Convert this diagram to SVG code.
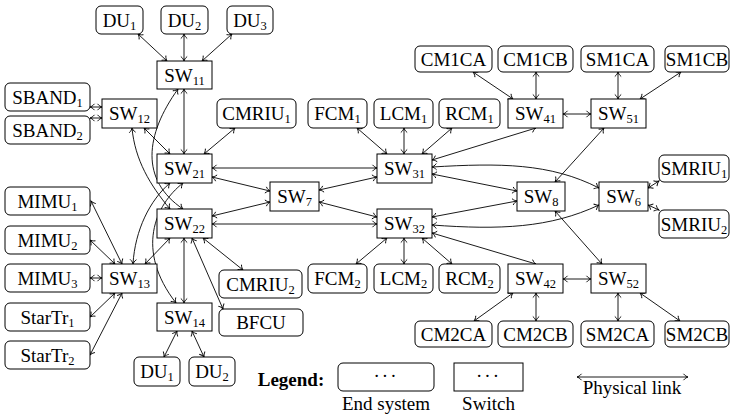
<svg xmlns="http://www.w3.org/2000/svg" width="732" height="417" viewBox="0 0 732 417">
<defs>
<marker id="ar" viewBox="-6 -5 8 10" markerWidth="8" markerHeight="10" refX="0" refY="0" orient="auto-start-reverse" markerUnits="userSpaceOnUse">
<path d="M-4.5,-3.2 C-3,-1.2 -1,-0.3 0,0 C-1,0.3 -3,1.2 -4.5,3.2" fill="none" stroke="#000" stroke-width="0.9"/>
</marker>
</defs>
<style>
.es{fill:#fff;stroke:#000;stroke-width:1;}
.sw{fill:#fff;stroke:#000;stroke-width:1;}
text{font-size:19px;fill:#000;text-anchor:middle;}
.sub{font-size:12.5px;}
#links path,#links line{fill:none;stroke:#000;stroke-width:0.9;marker-start:url(#ar);marker-end:url(#ar);}
.lg{font-weight:bold;}
</style>
<rect width="732" height="417" fill="#fff"/>
<g id="links">
<line x1="138" y1="34" x2="167" y2="61"/>
<line x1="184" y1="34" x2="184" y2="61"/>
<line x1="232" y1="34" x2="202" y2="61"/>
<line x1="90" y1="107" x2="102" y2="107"/>
<line x1="90" y1="118" x2="102" y2="118"/>
<line x1="184" y1="89" x2="184" y2="154"/>
<line x1="144" y1="128" x2="170" y2="154"/>
<line x1="235" y1="128" x2="204" y2="154"/>
<path d="M132,128 C135,160 150,185 170,209"/>
<path d="M178,89 C145,135 140,180 183,209"/>
<path d="M170,183 C150,200 135,230 133,264"/>
<path d="M183,183 C155,205 135,250 176,303"/>
<line x1="170" y1="238" x2="145" y2="264"/>
<line x1="184" y1="238" x2="184" y2="303"/>
<line x1="192" y1="238" x2="223" y2="309"/>
<line x1="203" y1="238" x2="243" y2="270"/>
<line x1="91" y1="201" x2="122" y2="264"/>
<line x1="90" y1="240" x2="115" y2="264"/>
<line x1="90" y1="278" x2="102" y2="278"/>
<line x1="90" y1="317" x2="115" y2="293"/>
<line x1="90" y1="355" x2="122" y2="293"/>
<line x1="177" y1="331" x2="164" y2="357"/>
<line x1="192" y1="331" x2="204" y2="357"/>
<line x1="212" y1="168" x2="377" y2="168"/>
<line x1="212" y1="177" x2="270" y2="191"/>
<line x1="319" y1="190" x2="377" y2="177"/>
<line x1="212" y1="216" x2="270" y2="202"/>
<line x1="319" y1="202" x2="377" y2="217"/>
<line x1="212" y1="224" x2="377" y2="224"/>
<line x1="357" y1="128" x2="387" y2="154"/>
<line x1="404" y1="128" x2="404" y2="154"/>
<line x1="452" y1="128" x2="422" y2="154"/>
<line x1="536" y1="128" x2="432" y2="160"/>
<line x1="432" y1="174" x2="517" y2="191"/>
<path d="M432,167 C500,163 550,163 599,188"/>
<line x1="432" y1="217" x2="517" y2="201"/>
<path d="M432,225 C500,230 550,228 599,205"/>
<line x1="432" y1="233" x2="536" y2="264"/>
<line x1="356" y1="264" x2="387" y2="238"/>
<line x1="404" y1="264" x2="404" y2="238"/>
<line x1="452" y1="264" x2="422" y2="238"/>
<line x1="563" y1="279" x2="591" y2="279"/>
<line x1="513" y1="293" x2="474" y2="321"/>
<line x1="536" y1="293" x2="536" y2="321"/>
<line x1="618" y1="293" x2="618" y2="321"/>
<line x1="640" y1="293" x2="680" y2="321"/>
<line x1="555" y1="211" x2="602" y2="264"/>
<line x1="555" y1="182" x2="604" y2="128"/>
<line x1="563" y1="114" x2="591" y2="114"/>
<line x1="513" y1="99" x2="473" y2="72"/>
<line x1="536" y1="72" x2="536" y2="99"/>
<line x1="618" y1="72" x2="618" y2="99"/>
<line x1="640" y1="99" x2="681" y2="72"/>
<line x1="648" y1="188" x2="659" y2="181"/>
<line x1="648" y1="205" x2="659" y2="210"/>
<line x1="577" y1="377" x2="688" y2="377"/>
</g>
<g font-family="Liberation Serif, Times New Roman, DejaVu Serif, Noto Serif, serif">
<g id="DU1a"><rect class="es" x="96" y="6" width="47" height="28" rx="5"/><text x="119.5" y="26.5">DU<tspan class="sub" dy="3">1</tspan></text></g>
<g id="DU2a"><rect class="es" x="161" y="6" width="47" height="28" rx="5"/><text x="184.5" y="26.5">DU<tspan class="sub" dy="3">2</tspan></text></g>
<g id="DU3a"><rect class="es" x="227" y="6" width="46" height="28" rx="5"/><text x="250" y="26.5">DU<tspan class="sub" dy="3">3</tspan></text></g>
<g id="SBAND1"><rect class="es" x="5" y="83" width="85" height="28" rx="5"/><text x="47.5" y="103.5">SBAND<tspan class="sub" dy="3">1</tspan></text></g>
<g id="SBAND2"><rect class="es" x="5" y="116" width="85" height="28" rx="5"/><text x="47.5" y="136.5">SBAND<tspan class="sub" dy="3">2</tspan></text></g>
<g id="CMRIU1"><rect class="es" x="217" y="99" width="79" height="29" rx="5"/><text x="256.5" y="120">CMRIU<tspan class="sub" dy="3">1</tspan></text></g>
<g id="MIMU1"><rect class="es" x="5" y="187" width="85" height="28" rx="5"/><text x="47.5" y="207.5">MIMU<tspan class="sub" dy="3">1</tspan></text></g>
<g id="MIMU2"><rect class="es" x="5" y="226" width="85" height="28" rx="5"/><text x="47.5" y="246.5">MIMU<tspan class="sub" dy="3">2</tspan></text></g>
<g id="MIMU3"><rect class="es" x="5" y="264" width="85" height="28" rx="5"/><text x="47.5" y="284.5">MIMU<tspan class="sub" dy="3">3</tspan></text></g>
<g id="StarTr1"><rect class="es" x="5" y="303" width="85" height="28" rx="5"/><text x="47.5" y="323.5">StarTr<tspan class="sub" dy="3">1</tspan></text></g>
<g id="StarTr2"><rect class="es" x="5" y="341" width="85" height="28" rx="5"/><text x="47.5" y="361.5">StarTr<tspan class="sub" dy="3">2</tspan></text></g>
<g id="CMRIU2"><rect class="es" x="219" y="270" width="83" height="28" rx="5"/><text x="260.5" y="290.5">CMRIU<tspan class="sub" dy="3">2</tspan></text></g>
<g id="BFCU"><rect class="es" x="219" y="309" width="84" height="27" rx="5"/><text x="261" y="329">BFCU</text></g>
<g id="DU1b"><rect class="es" x="134" y="357" width="46" height="29" rx="5"/><text x="157" y="378">DU<tspan class="sub" dy="3">1</tspan></text></g>
<g id="DU2b"><rect class="es" x="189" y="357" width="46" height="29" rx="5"/><text x="212" y="378">DU<tspan class="sub" dy="3">2</tspan></text></g>
<g id="FCM1"><rect class="es" x="308" y="99" width="59" height="29" rx="5"/><text x="337.5" y="120">FCM<tspan class="sub" dy="3">1</tspan></text></g>
<g id="LCM1"><rect class="es" x="374" y="99" width="59" height="29" rx="5"/><text x="403.5" y="120">LCM<tspan class="sub" dy="3">1</tspan></text></g>
<g id="RCM1"><rect class="es" x="439" y="99" width="61" height="29" rx="5"/><text x="469.5" y="120">RCM<tspan class="sub" dy="3">1</tspan></text></g>
<g id="CM1CA"><rect class="es" x="415" y="46" width="77" height="26" rx="5"/><text x="453.5" y="65.5">CM1CA</text></g>
<g id="CM1CB"><rect class="es" x="498" y="46" width="75" height="26" rx="5"/><text x="535.5" y="65.5">CM1CB</text></g>
<g id="SM1CA"><rect class="es" x="581" y="46" width="73" height="26" rx="5"/><text x="617.5" y="65.5">SM1CA</text></g>
<g id="SM1CB"><rect class="es" x="665" y="46" width="64" height="26" rx="5"/><text x="697" y="65.5">SM1CB</text></g>
<g id="SMRIU1"><rect class="es" x="659" y="155" width="70" height="27" rx="5"/><text x="694" y="175">SMRIU<tspan class="sub" dy="3">1</tspan></text></g>
<g id="SMRIU2"><rect class="es" x="659" y="210" width="70" height="28" rx="5"/><text x="694" y="230.5">SMRIU<tspan class="sub" dy="3">2</tspan></text></g>
<g id="FCM2"><rect class="es" x="308" y="264" width="59" height="29" rx="5"/><text x="337.5" y="285">FCM<tspan class="sub" dy="3">2</tspan></text></g>
<g id="LCM2"><rect class="es" x="374" y="264" width="59" height="29" rx="5"/><text x="403.5" y="285">LCM<tspan class="sub" dy="3">2</tspan></text></g>
<g id="RCM2"><rect class="es" x="439" y="264" width="61" height="29" rx="5"/><text x="469.5" y="285">RCM<tspan class="sub" dy="3">2</tspan></text></g>
<g id="CM2CA"><rect class="es" x="415" y="321" width="77" height="26" rx="5"/><text x="453.5" y="340.5">CM2CA</text></g>
<g id="CM2CB"><rect class="es" x="498" y="321" width="75" height="26" rx="5"/><text x="535.5" y="340.5">CM2CB</text></g>
<g id="SM2CA"><rect class="es" x="581" y="321" width="73" height="26" rx="5"/><text x="617.5" y="340.5">SM2CA</text></g>
<g id="SM2CB"><rect class="es" x="665" y="321" width="64" height="26" rx="5"/><text x="697" y="340.5">SM2CB</text></g>
<g id="SW11"><rect class="sw" x="157" y="61" width="55" height="28"/><text x="184.5" y="81.5">SW<tspan class="sub" dy="3">11</tspan></text></g>
<g id="SW12"><rect class="sw" x="102" y="99" width="55" height="29"/><text x="129.5" y="120">SW<tspan class="sub" dy="3">12</tspan></text></g>
<g id="SW21"><rect class="sw" x="157" y="154" width="55" height="29"/><text x="184.5" y="175">SW<tspan class="sub" dy="3">21</tspan></text></g>
<g id="SW22"><rect class="sw" x="157" y="209" width="55" height="29"/><text x="184.5" y="230">SW<tspan class="sub" dy="3">22</tspan></text></g>
<g id="SW13"><rect class="sw" x="102" y="264" width="55" height="29"/><text x="129.5" y="285">SW<tspan class="sub" dy="3">13</tspan></text></g>
<g id="SW14"><rect class="sw" x="157" y="303" width="55" height="28"/><text x="184.5" y="323.5">SW<tspan class="sub" dy="3">14</tspan></text></g>
<g id="SW7"><rect class="sw" x="270" y="182" width="49" height="29"/><text x="294.5" y="203">SW<tspan class="sub" dy="3">7</tspan></text></g>
<g id="SW31"><rect class="sw" x="377" y="154" width="55" height="29"/><text x="404.5" y="175">SW<tspan class="sub" dy="3">31</tspan></text></g>
<g id="SW32"><rect class="sw" x="377" y="209" width="55" height="29"/><text x="404.5" y="230">SW<tspan class="sub" dy="3">32</tspan></text></g>
<g id="SW8"><rect class="sw" x="517" y="182" width="48" height="29"/><text x="541" y="203">SW<tspan class="sub" dy="3">8</tspan></text></g>
<g id="SW6"><rect class="sw" x="599" y="182" width="49" height="29"/><text x="623.5" y="203">SW<tspan class="sub" dy="3">6</tspan></text></g>
<g id="SW41"><rect class="sw" x="508" y="99" width="55" height="29"/><text x="535.5" y="120">SW<tspan class="sub" dy="3">41</tspan></text></g>
<g id="SW51"><rect class="sw" x="591" y="99" width="55" height="29"/><text x="618.5" y="120">SW<tspan class="sub" dy="3">51</tspan></text></g>
<g id="SW42"><rect class="sw" x="508" y="264" width="55" height="29"/><text x="535.5" y="285">SW<tspan class="sub" dy="3">42</tspan></text></g>
<g id="SW52"><rect class="sw" x="591" y="264" width="55" height="29"/><text x="618.5" y="285">SW<tspan class="sub" dy="3">52</tspan></text></g>
<g id="legend">
<text class="lg" x="291" y="386">Legend:</text>
<rect class="es" x="338" y="363" width="96" height="28" rx="5"/>
<text x="386" y="382" letter-spacing="2">···</text>
<text x="386" y="410">End system</text>
<rect class="sw" x="454" y="363" width="69" height="28"/>
<text x="488.5" y="382" letter-spacing="2">···</text>
<text x="488.5" y="410">Switch</text>
<text x="632" y="394">Physical link</text>
</g>
</g>
</svg>
